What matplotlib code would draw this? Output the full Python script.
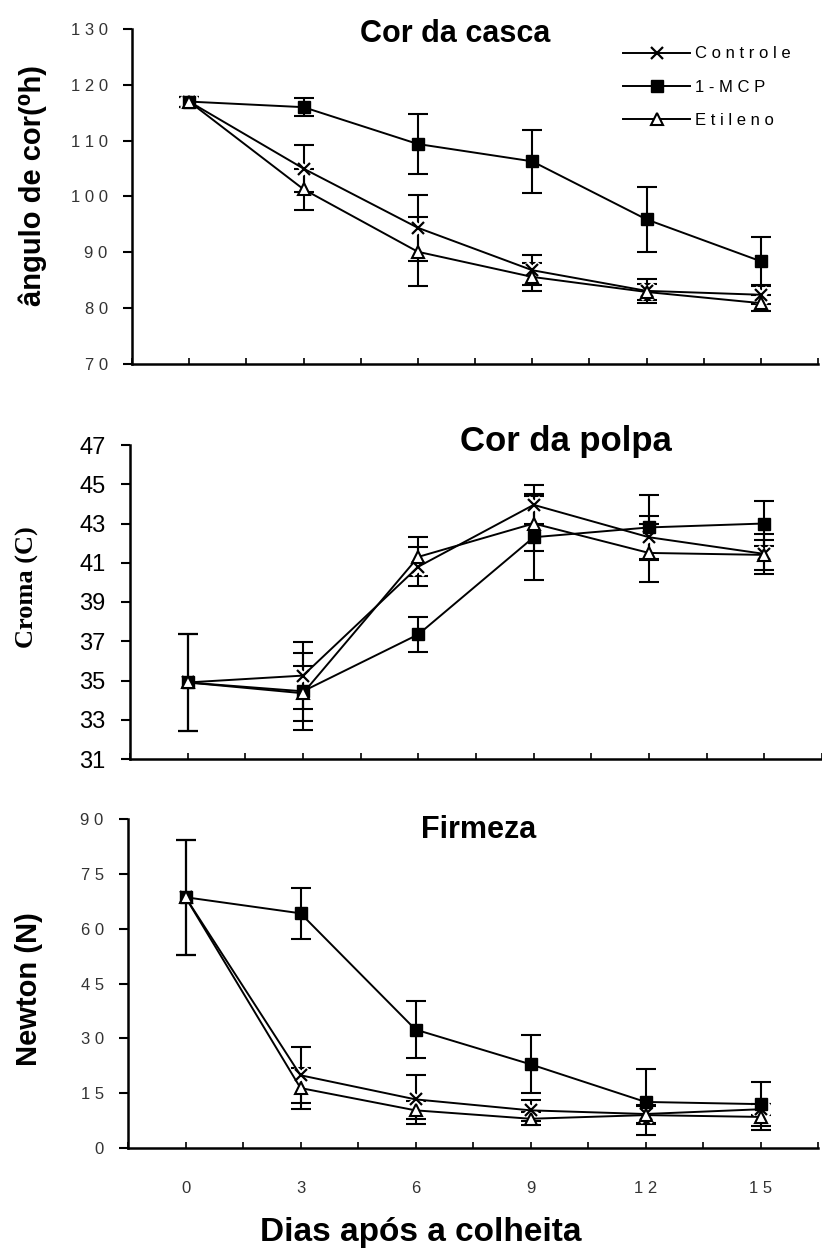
import numpy as np
import matplotlib.pyplot as plt
import matplotlib.transforms as mtransforms

dias = [0, 3, 6, 9, 12, 15]
tratamentos = ['Controle', '1-MCP', 'Etileno']

# Cor da casca (ângulo hue)
casca_controle = [117.0, 105.0, 94.4, 86.8, 83.1, 82.4]
casca_controle_err = [0.9, 4.2, 5.9, 2.7, 2.2, 1.7]
casca_mcp = [117.0, 116.0, 109.4, 106.3, 95.9, 88.4]
casca_mcp_err = [0.9, 1.6, 5.3, 5.6, 5.8, 4.4]
casca_etileno = [117.0, 101.3, 90.1, 85.6, 82.9, 80.9]
casca_etileno_err = [0.9, 3.7, 6.2, 2.5, 1.4, 1.4]

# Cor da polpa (croma)
polpa_controle = [34.9, 35.25, 40.8, 43.95, 42.3, 41.45]
polpa_controle_err = [2.45, 1.7, 1.0, 1.0, 1.1, 1.0]
polpa_mcp = [34.9, 34.45, 37.35, 42.3, 42.8, 43.0]
polpa_mcp_err = [2.45, 1.95, 0.9, 2.2, 1.65, 1.15]
polpa_etileno = [34.9, 34.35, 41.3, 43.0, 41.5, 41.4]
polpa_etileno_err = [2.45, 1.4, 1.0, 1.4, 1.5, 0.75]

# Firmeza (N)
firmeza_controle = [68.6, 19.9, 13.3, 10.3, 9.3, 10.6]
firmeza_controle_err = [15.7, 7.6, 6.8, 2.8, 2.5, 1.5]
firmeza_mcp = [68.6, 64.2, 32.4, 22.9, 12.6, 12.0]
firmeza_mcp_err = [15.7, 7.0, 7.9, 7.9, 9.0, 6.0]
firmeza_etileno = [68.6, 16.4, 10.3, 8.0, 9.0, 8.5]
firmeza_etileno_err = [15.7, 5.6, 2.5, 1.8, 2.5, 3.5]

SANS = ['Liberation Sans', 'DejaVu Sans']
plt.rcParams['font.family'] = SANS

estilos = [
    dict(marker='x', ms=9, mew=1.6, mec='k', mfc='k'),
    dict(marker='s', ms=8, mew=1.0, mec='k', mfc='k'),
    dict(marker='^', ms=8, mew=1.5, mec='k', mfc='white'),
]


def espacar(txt):
    return ' '.join(txt)


def painel(ax, series, erros, xlim, ylim, yticks, ylab_espacado, xlabels):
    handles = []
    for i, (vals, errs) in enumerate(zip(series, erros)):
        ax.errorbar(dias, vals, yerr=errs, fmt='none', ecolor='k',
                    elinewidth=1.5, capsize=7, capthick=1.5, zorder=2)
        if estilos[i]['marker'] == 'x':
            # white halo that breaks the lines around the crosses
            ax.plot(dias, vals, ls='none', marker='x', ms=10, mew=5,
                    mec='white', zorder=3)
        h, = ax.plot(dias, vals, color='k', lw=1.4, zorder=3 + i,
                     label=espacar(tratamentos[i]), **estilos[i])
        handles.append(h)

    ax.set_xlim(*xlim)
    ax.set_ylim(*ylim)
    for s in ['top', 'right']:
        ax.spines[s].set_visible(False)
    for s in ['left', 'bottom']:
        ax.spines[s].set_linewidth(1.8)

    ax.set_yticks(yticks)
    if ylab_espacado:
        ax.set_yticklabels([espacar(str(v)) for v in yticks],
                           fontsize=12, color='#333333')
        ax.tick_params(axis='y', pad=11)
        off = mtransforms.ScaledTranslation(0, 4 / 72, ax.figure.dpi_scale_trans)
        for lab in ax.get_yticklabels():
            lab.set_transform(lab.get_transform() + off)
    else:
        ax.set_yticklabels([str(v) for v in yticks], fontsize=17)
        ax.tick_params(axis='y', pad=11)
    ax.tick_params(axis='y', direction='out', length=6.5, width=1.5)

    xt = np.arange(-1.5, 16.6, 1.5)
    ax.set_xticks(xt)
    if xlabels:
        labs = [espacar(str(int(t))) if t >= 0 and t % 3 == 0 else '' for t in xt]
        ax.set_xticklabels(labs, fontsize=12, color='#333333')
    else:
        ax.set_xticklabels([''] * len(xt))
    ax.tick_params(axis='x', direction='in', length=4, width=1.2, pad=24)
    return handles


fig = plt.figure(figsize=(8.22, 12.58), dpi=100)
W, H = 822, 1258
ax1 = fig.add_axes([132 / W, 1 - 364 / H, 686 / W, 335 / H])
ax2 = fig.add_axes([130 / W, 1 - 759 / H, 692 / W, 314 / H])
ax3 = fig.add_axes([128 / W, 1 - 1148 / H, 690 / W, 329 / H])

hs = painel(ax1, [casca_controle, casca_mcp, casca_etileno],
            [casca_controle_err, casca_mcp_err, casca_etileno_err],
            (-1.5, 16.5), (70, 130), list(range(70, 131, 10)), True, False)
painel(ax2, [polpa_controle, polpa_mcp, polpa_etileno],
       [polpa_controle_err, polpa_mcp_err, polpa_etileno_err],
       (-1.46, 15.93), (31, 47), list(range(31, 48, 2)), False, False)
painel(ax3, [firmeza_controle, firmeza_mcp, firmeza_etileno],
       [firmeza_controle_err, firmeza_mcp_err, firmeza_etileno_err],
       (-1.5, 16.5), (0, 90), list(range(0, 91, 15)), True, True)

ax1.legend(handles=hs, loc='upper left', bbox_to_anchor=(0.716, 0.948),
           frameon=False, fontsize=12, handlelength=4, handletextpad=0.3,
           labelspacing=1.1, borderpad=0, borderaxespad=0)

# titles
fig.text(455 / W, 1 - 34 / H, 'Cor da casca', fontsize=22, weight='bold',
         ha='center', va='center')
fig.text(566 / W, 1 - 441 / H, 'Cor da polpa', fontsize=25, weight='bold',
         ha='center', va='center')
fig.text(479 / W, 1 - 830 / H, 'Firmeza', fontsize=22, weight='bold',
         ha='center', va='center')

# y axis labels
fig.text(33 / W, 1 - 185 / H, 'ângulo de cor(⁰h)', fontsize=21, weight='bold',
         rotation=90, ha='center', va='center')
fig.text(27 / W, 1 - 587 / H, 'Croma (C)', fontsize=19, weight='bold',
         family=['Liberation Serif', 'DejaVu Serif'],
         rotation=90, ha='center', va='center')
fig.text(29 / W, 1 - 989 / H, 'Newton (N)', fontsize=21, weight='bold',
         rotation=90, ha='center', va='center')

fig.text(421 / W, 1 - 1232 / H, 'Dias após a colheita', fontsize=24,
         weight='bold', ha='center', va='center')

fig.savefig('out.png', dpi=100)
